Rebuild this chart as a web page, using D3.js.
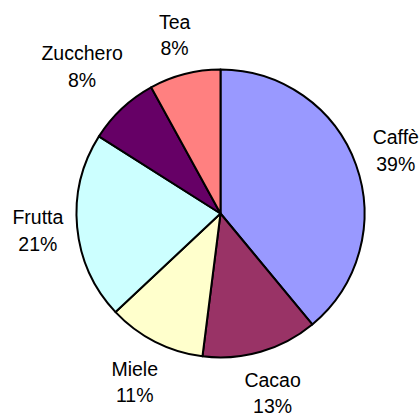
<!DOCTYPE html>
<html>
<head>
<meta charset="utf-8">
<script src="https://cdn.jsdelivr.net/npm/d3@7"></script>
<style>
  html, body { margin: 0; padding: 0; background: #ffffff; }
  svg { display: block; }
</style>
</head>
<body>
<svg id="chart" width="419" height="419"></svg>
<script>
// Consumption shares by product (percent)
const categories = ["Caffè", "Cacao", "Miele", "Frutta", "Zucchero", "Tea"];
const values = [39, 13, 11, 21, 8, 8];
const colors = ["#9999FF", "#993366", "#FFFFCC", "#CCFFFF", "#660066", "#FF8080"];

const W = 419, H = 419;
const cx = 220.5, cy = 213.5, radius = 144;
const labelGap = 13;
const fontSize = 19.5, lineStep = 26.7;

const svg = d3.select("#chart");
const g = svg.append("g").attr("transform", `translate(${cx},${cy})`);

const data = categories.map((c, i) => ({ name: c, value: values[i], color: colors[i] }));
const total = d3.sum(values);

const pie = d3.pie().value(d => d.value).sort(null);
const arc = d3.arc().innerRadius(0).outerRadius(radius);
const arcs = pie(data);

g.selectAll("path.slice")
  .data(arcs)
  .join("path")
  .attr("class", "slice")
  .attr("d", arc)
  .attr("fill", d => d.data.color)
  .attr("stroke", "#000")
  .attr("stroke-width", 2)
  .attr("stroke-linejoin", "round");

// Labels: name and percentage, placed outside along the slice's mid angle
const fmt = d3.format(".0%");
const labels = g.selectAll("g.label")
  .data(arcs)
  .join("g")
  .attr("class", "label");

labels.each(function (d) {
  const lg = d3.select(this);
  const t = lg.append("text")
    .attr("font-family", "Arial, 'Liberation Sans', sans-serif")
    .attr("font-size", fontSize)
    .attr("fill", "#000")
    .attr("text-anchor", "middle");
  t.append("tspan").attr("x", 0).attr("y", 0).text(d.data.name);
  t.append("tspan").attr("x", 0).attr("y", lineStep).text(fmt(d.data.value / total));

  const bb = t.node().getBBox();
  const a = (d.startAngle + d.endAngle) / 2;
  const ux = Math.sin(a), uy = -Math.cos(a);
  // box offsets relative to its own centre
  const bx = bb.x + bb.width / 2, by = bb.y + bb.height / 2;
  const hw = bb.width / 2, hh = bb.height / 2;
  const target = radius + labelGap;
  // distance from pie centre to nearest point of a box centred at (px,py)
  const nearest = (px, py) => {
    const nx = Math.max(px - hw, Math.min(0, px + hw));
    const ny = Math.max(py - hh, Math.min(0, py + hh));
    return Math.hypot(nx, ny);
  };
  let lo = 0, hi = 400;
  for (let k = 0; k < 60; k++) {
    const mid = (lo + hi) / 2;
    if (nearest(ux * mid, uy * mid) < target) lo = mid; else hi = mid;
  }
  const px = ux * hi, py = uy * hi;
  t.attr("transform", `translate(${px - bx},${py - by})`);
});
</script>
</body>
</html>
